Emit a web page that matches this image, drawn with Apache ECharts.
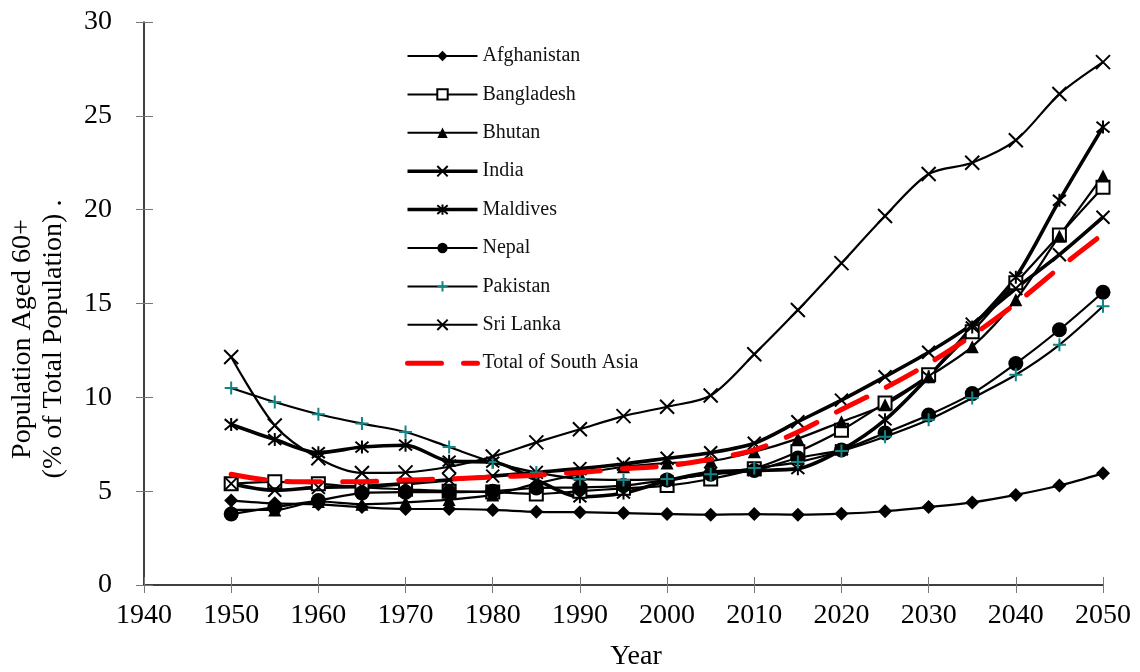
<!DOCTYPE html>
<html>
<head>
<meta charset="utf-8">
<script src="https://cdn.jsdelivr.net/npm/echarts@6/dist/echarts.min.js"></script>
<style>
  html, body { margin: 0; padding: 0; background: #fff; }
  #chart { width: 1140px; height: 672px; }
</style>
</head>
<body>
<div id="chart"></div>
<script>
// Share of population aged 60+ in South Asian countries, 1950–2050
const years = [1950, 1955, 1960, 1965, 1970, 1975, 1980, 1985, 1990, 1995, 2000,
               2005, 2010, 2015, 2020, 2025, 2030, 2035, 2040, 2045, 2050];

const afghanistan = [4.5, 4.35, 4.3, 4.15, 4.05, 4.05, 4.0, 3.9, 3.88, 3.83, 3.78,
                     3.75, 3.78, 3.75, 3.8, 3.93, 4.15, 4.4, 4.8, 5.3, 5.95];
const bangladesh  = [5.4, 5.5, 5.4, 5.2, 5.1, 5.0, 4.95, 4.85, 5.0, 5.15, 5.3,
                     5.65, 6.2, 7.1, 8.25, 9.7, 11.2, 13.5, 16.1, 18.65, 21.2];
const bhutan      = [4.0, 4.0, 4.45, 4.3, 4.4, 4.55, 4.8, 5.4, 5.9, 6.3, 6.5,
                     6.6, 7.1, 7.8, 8.7, 9.6, 11.1, 12.7, 15.2, 18.6, 21.8];
const india       = [5.4, 5.05, 5.2, 5.25, 5.4, 5.6, 5.8, 6.0, 6.2, 6.45, 6.75,
                     7.05, 7.55, 8.7, 9.85, 11.1, 12.4, 13.9, 15.8, 17.6, 19.6];
const maldives    = [8.55, 7.75, 7.05, 7.35, 7.45, 6.6, 6.55, 5.6, 4.7, 4.9, 5.55,
                     6.0, 6.1, 6.2, 7.2, 8.8, 11.1, 13.75, 16.4, 20.5, 24.4];
const nepal       = [3.78, 4.15, 4.5, 4.9, 4.95, 4.95, 5.0, 5.17, 5.2, 5.3, 5.6,
                     5.9, 6.1, 6.77, 7.2, 8.1, 9.06, 10.2, 11.8, 13.6, 15.6];
const pakistan    = [10.5, 9.75, 9.1, 8.6, 8.15, 7.35, 6.55, 6.0, 5.65, 5.6, 5.65,
                     5.9, 6.23, 6.55, 7.14, 7.9, 8.8, 9.96, 11.2, 12.8, 14.85];
const sriLanka    = [12.15, 8.5, 6.75, 5.97, 6.0, 6.3, 6.85, 7.6, 8.3, 9.0, 9.5,
                     10.1, 12.3, 14.65, 17.15, 19.66, 21.9, 22.5, 23.7, 26.16, 27.86];
const southAsia   = [5.9, 5.55, 5.5, 5.5, 5.6, 5.65, 5.75, 5.85, 6.0, 6.2, 6.35,
                     6.7, 7.2, 8.15, 9.35, 10.5, 11.8, 13.3, 15.0, 16.9, 18.7];

const FONT = "'Liberation Serif', 'Times New Roman', serif";

// Stroked marker shapes
const CROSS_X   = 'path://M0,0L10,10M10,0L0,10';
const ASTERISK  = 'path://M0,0L10,10M10,0L0,10M5,-1L5,11';
const PLUS      = 'path://M5,0L5,10M0,5L10,5';

function pairs(values) {
  return years.map((y, i) => [y, values[i]]);
}

function countrySeries(name, values, opts) {
  return {
    name: name,
    type: 'line',
    data: pairs(values),
    smooth: 0.3,
    symbol: opts.symbol,
    symbolSize: opts.size || 13,
    lineStyle: { color: '#000', width: opts.width || 2.2 },
    itemStyle: {
      color: opts.color || '#000',
      borderColor: opts.borderColor || opts.color || '#000',
      borderWidth: opts.borderWidth || 0
    },
    emphasis: { disabled: true },
    z: opts.z || 2
  };
}

const series = [
  countrySeries('Afghanistan', afghanistan, { symbol: 'diamond', size: 14 }),
  countrySeries('Bangladesh', bangladesh, { symbol: 'emptyRect', size: 13, borderWidth: 2 }),
  countrySeries('Bhutan', bhutan, { symbol: 'triangle', size: 13 }),
  countrySeries('India', india, { symbol: CROSS_X, size: 13, borderWidth: 2, width: 3.6 }),
  countrySeries('Maldives', maldives, { symbol: ASTERISK, size: 13, borderWidth: 2, width: 3.6 }),
  countrySeries('Nepal', nepal, { symbol: 'circle', size: 15 }),
  countrySeries('Pakistan', pakistan, { symbol: PLUS, size: 13, borderWidth: 2, color: '#138585' }),
  countrySeries('Sri Lanka', sriLanka, { symbol: CROSS_X, size: 14, borderWidth: 2 }),
  {
    name: 'Total of South Asia',
    type: 'line',
    data: pairs(southAsia),
    smooth: 0.3,
    symbol: 'circle',
    showSymbol: false,
    lineStyle: { color: '#ff0000', width: 5, type: [34, 22], cap: 'round' },
    itemStyle: { color: '#ff0000' },
    emphasis: { disabled: true },
    z: 5
  }
];

const legendNames = ['Afghanistan', 'Bangladesh', 'Bhutan', 'India', 'Maldives',
                     'Nepal', 'Pakistan', 'Sri Lanka', 'Total of South Asia'];
const legendLineWidth = { 'India': 3.5, 'Maldives': 3.5, 'Total of South Asia': 5 };

const chart = echarts.init(document.getElementById('chart'), null, { renderer: 'canvas' });

chart.setOption({
  animation: false,
  backgroundColor: '#fff',
  grid: { left: 144, right: 37, top: 22, bottom: 87, containLabel: false },
  legend: {
    orient: 'vertical',
    left: 405,
    top: 46,
    padding: 0,
    itemWidth: 70,
    itemHeight: 13,
    itemGap: 18.4,
    selectedMode: false,
    textStyle: { fontFamily: FONT, fontSize: 20, color: '#111' },
    data: legendNames.map(n => {
      const item = { name: n, lineStyle: { width: legendLineWidth[n] || 2 } };
      if (n === 'Total of South Asia') {
        item.itemStyle = { opacity: 0 };
      }
      return item;
    })
  },
  xAxis: [
    {
      type: 'value',
      min: 1940, max: 2050, interval: 10,
      position: 'bottom',
      axisLine: { show: true, onZero: false, lineStyle: { color: '#000', width: 1.5 } },
      axisTick: { show: true, length: 8, lineStyle: { color: '#777', width: 1 } },
      axisLabel: { margin: 17, fontFamily: FONT, fontSize: 28, color: '#000',
                   formatter: v => String(v) },
      splitLine: { show: false }
    },
    {
      type: 'value',
      min: 1940, max: 2050, interval: 10,
      position: 'bottom',
      axisLine: { show: false },
      axisTick: { show: true, inside: true, length: 8, lineStyle: { color: '#777', width: 1 } },
      axisLabel: { show: false },
      splitLine: { show: false }
    }
  ],
  yAxis: [
    {
      type: 'value',
      min: 0, max: 30, interval: 5,
      position: 'left',
      axisLine: { show: true, onZero: false, lineStyle: { color: '#000', width: 1.5 } },
      axisTick: { show: true, length: 8, lineStyle: { color: '#777', width: 1 } },
      axisLabel: { margin: 32, fontFamily: FONT, fontSize: 28, color: '#000' },
      splitLine: { show: false }
    },
    {
      type: 'value',
      min: 0, max: 30, interval: 5,
      position: 'left',
      axisLine: { show: false },
      axisTick: { show: true, inside: true, length: 9, lineStyle: { color: '#777', width: 1 } },
      axisLabel: { show: false },
      splitLine: { show: false }
    }
  ],
  graphic: [
    {
      type: 'text',
      x: 38, y: 339,
      rotation: Math.PI / 2,
      style: {
        text: 'Population Aged 60+\n(% of Total Population) .',
        font: '28px ' + FONT,
        fill: '#000',
        align: 'center',
        verticalAlign: 'middle',
        lineHeight: 31
      }
    },
    {
      type: 'text',
      x: 636, y: 657,
      style: {
        text: 'Year',
        font: '28px ' + FONT,
        fill: '#000',
        align: 'center',
        verticalAlign: 'middle'
      }
    }
  ],
  series: series
});
</script>
</body>
</html>
